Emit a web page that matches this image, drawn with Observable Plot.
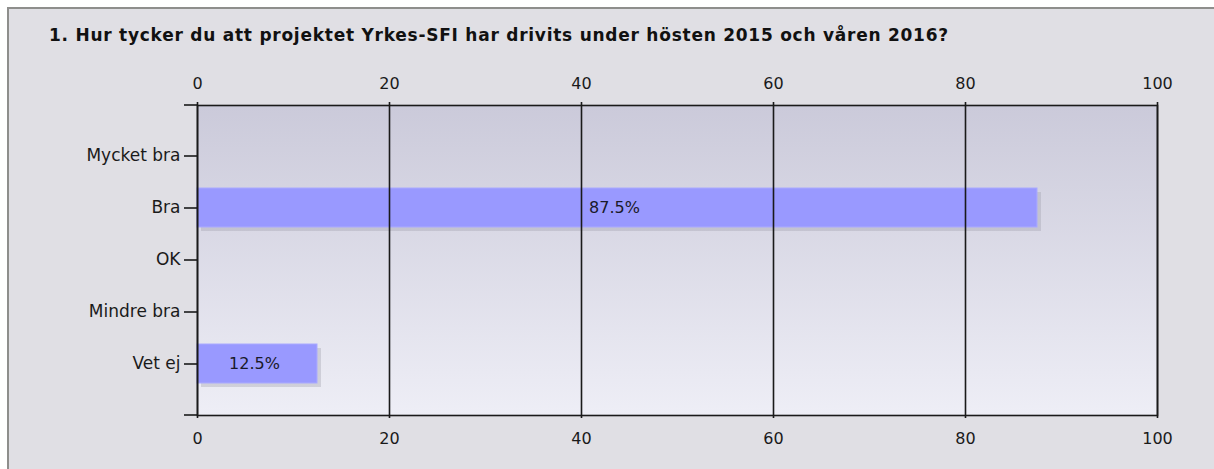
<!DOCTYPE html>
<html>
<head>
<meta charset="utf-8">
<script src="https://cdn.jsdelivr.net/npm/d3@7"></script>
<script src="https://cdn.jsdelivr.net/npm/@observablehq/plot@0.6"></script>
<style>
  html, body { margin: 0; padding: 0; background: #ffffff; width: 1214px; height: 469px; overflow: hidden; }
  #box { position: absolute; left: 7px; top: 7px; width: 1220px; height: 480px; border-left: 2px solid #8e8e8c; border-top: 2px solid #8e8e8c; background: #e0dfe4; }
  #title { position: absolute; left: 49px; top: 25px; font-family: "DejaVu Sans", Verdana, sans-serif; font-weight: bold; font-size: 17px; letter-spacing: 0.75px; line-height: 20px; color: #111; white-space: nowrap; }
  #chart { position: absolute; left: 0; top: 60px; }
</style>
</head>
<body>
<div id="box"></div>
<div id="title">1. Hur tycker du att projektet Yrkes-SFI har drivits under hösten 2015 och våren 2016?</div>
<div id="chart"></div>
<script>
const categories = ["Mycket bra", "Bra", "OK", "Mindre bra", "Vet ej"];
const percents = [0, 87.5, 0, 0, 12.5];
const xTicks = [0, 20, 40, 60, 80, 100];

const data = categories.map((c, i) => ({category: c, value: percents[i]}));
const bars = data.filter(d => d.value > 0);

const font = "DejaVu Sans, Verdana, sans-serif";

const plot = Plot.plot({
  width: 1214,
  height: 400,
  marginLeft: 197,
  marginRight: 57,
  marginTop: 45,
  marginBottom: 45,
  style: {background: "transparent", fontFamily: font, fontSize: "17px", color: "#1a1a1a"},
  x: {domain: [0, 100], ticks: xTicks, label: null},
  y: {type: "band", domain: categories, paddingInner: 0.245, paddingOuter: 0.6, label: null},
  marks: [
    Plot.frame({fill: "url(#plotbg)", stroke: null}),
    Plot.barX(bars, {x: "value", y: "category", fill: "#9d9daa", fillOpacity: 0.35, dx: 4, dy: 4}),
    Plot.barX(bars, {x: "value", y: "category", fill: "#9999ff", stroke: "#aaaaff", strokeWidth: 1}),
    Plot.ruleX(xTicks, {stroke: "#1a1a1a", strokeWidth: 1.6, insetTop: -3, insetBottom: -3}),
    Plot.frame({stroke: "#1a1a1a", strokeWidth: 1.6}),
    Plot.text(bars, {x: d => d.value / 2, y: "category", text: d => d.value.toFixed(1) + "%", fill: "#1a1a2a", fontSize: 16, dx: -3}),
    Plot.axisX({anchor: "top", ticks: xTicks, tickSize: 0, tickPadding: 17, label: null, fontSize: 16}),
    Plot.axisX({anchor: "bottom", ticks: xTicks, tickSize: 0, tickPadding: 17, label: null, fontSize: 16}),
    Plot.axisY({anchor: "left", tickSize: 13, tickPadding: 4, label: null, strokeWidth: 1.6})
  ]
});

// gradient background + edge ticks from the y scale range
const svg = d3.select(plot);
const defs = svg.insert("defs", ":first-child");
const g = defs.append("linearGradient").attr("id", "plotbg").attr("x1", 0).attr("y1", 0).attr("x2", 0).attr("y2", 1);
g.append("stop").attr("offset", "0%").attr("stop-color", "#cbcada");
g.append("stop").attr("offset", "100%").attr("stop-color", "#eeeef6");

const yr = plot.scale("y").range;
const x0 = plot.scale("x").apply(0);
svg.append("g").selectAll("line").data(yr).join("line")
  .attr("x1", x0 - 13).attr("x2", x0)
  .attr("y1", d => d).attr("y2", d => d)
  .attr("stroke", "#1a1a1a").attr("stroke-width", 1.6);

document.getElementById("chart").appendChild(plot);
</script>
</body>
</html>
